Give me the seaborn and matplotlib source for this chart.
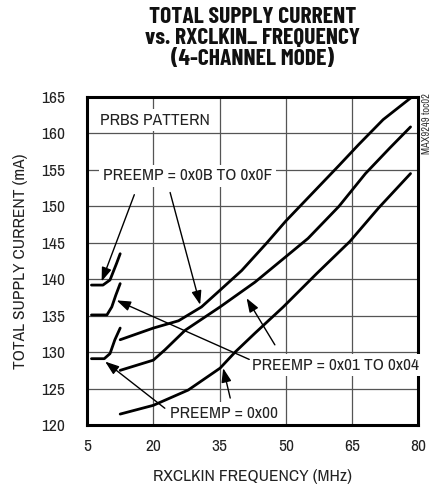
import matplotlib
matplotlib.use("Agg")
import matplotlib.pyplot as plt
import seaborn as sns
import pandas as pd
import numpy as np

# ---- data ----
freq_hi = [12.5, 20, 25.7, 30.9, 35.1, 40, 45.7, 50, 56, 62, 66.5, 72, 78.5]
curr_hi = [131.7, 133.3, 134.3, 136.2, 138.5, 141.2, 145.0, 148.0, 151.8, 155.6, 158.5, 161.9, 165.0]

freq_mid = [12.5, 20, 22.6, 27.2, 35.1, 43, 49.4, 55, 62, 68, 73.5, 78.2]
curr_mid = [127.5, 128.9, 130.3, 133.0, 136.2, 139.6, 142.8, 145.6, 150.0, 154.5, 158.0, 160.9]

freq_lo = [12.5, 20, 27.9, 35.1, 38.5, 43, 49.4, 57, 64.5, 71, 78.2]
curr_lo = [121.5, 122.7, 124.8, 127.8, 130.0, 132.6, 136.2, 140.8, 145.2, 149.8, 154.5]

# low-frequency segments
freq_seg_hi = [6.0, 8.6, 10.2, 11.7, 12.5]
curr_seg_hi = [139.2, 139.2, 139.9, 142.2, 143.5]
freq_seg_mid = [6.0, 9.5, 10.6, 11.5, 12.5]
curr_seg_mid = [135.1, 135.1, 136.2, 137.8, 139.4]
freq_seg_lo = [6.0, 8.9, 10.2, 11.3, 12.5]
curr_seg_lo = [129.1, 129.1, 129.8, 131.7, 133.3]

x_ticks = [5, 20, 35, 50, 65, 80]
y_ticks = [120, 125, 130, 135, 140, 145, 150, 155, 160, 165]

sns.set_theme(style="white")
FONT = ["Archivo Narrow", "DejaVu Sans"]
TITLE_FONT = ["Barlow Condensed", "DejaVu Sans"]
plt.rcParams["font.family"] = FONT

fig = plt.figure(figsize=(4.33, 4.91), dpi=100)
ax = fig.add_axes([0.201, 0.1344, 0.7655, 0.668])

frames = []
for name, xs, ys in [
    ("hi", freq_hi, curr_hi), ("mid", freq_mid, curr_mid), ("lo", freq_lo, curr_lo),
    ("seg_hi", freq_seg_hi, curr_seg_hi), ("seg_mid", freq_seg_mid, curr_seg_mid),
    ("seg_lo", freq_seg_lo, curr_seg_lo)]:
    frames.append(pd.DataFrame({"freq": xs, "curr": ys, "series": name}))
df = pd.concat(frames, ignore_index=True)

for name, g in df.groupby("series", sort=False):
    sns.lineplot(data=g, x="freq", y="curr", ax=ax, color="black", lw=2.0,
                 sort=False, estimator=None, legend=False, zorder=4)

ax.set_xlim(5, 80)
ax.set_ylim(120, 165)
ax.set_xticks(x_ticks)
ax.set_yticks(y_ticks)
ax.grid(True, color="#555555", lw=0.9, zorder=0)
ax.set_axisbelow(True)
for s in ax.spines.values():
    s.set_color("black")
    s.set_linewidth(2.2)
ax.tick_params(axis="both", length=0, labelsize=12.5, colors="#222222")
ax.tick_params(axis="y", pad=16)
ax.tick_params(axis="x", pad=10)
ax.set_xlabel("RXCLKIN FREQUENCY (MHz)", fontsize=12.5, color="#222222", labelpad=11)
ax.set_ylabel("TOTAL SUPPLY CURRENT (mA)", fontsize=12.5, color="#222222", labelpad=9)

fig.text(0.584, 0.986, "TOTAL SUPPLY CURRENT\nvs. RXCLKIN_ FREQUENCY\n(4-CHANNEL MODE)",
         ha="center", va="top", fontsize=17, fontweight="bold", linespacing=1.08,
         color="#111111", family=TITLE_FONT)

fig.text(0.985, 0.81, "MAX9249 toc02", rotation=90, ha="center", va="top",
         fontsize=7.5, color="#333333")

bbox = dict(boxstyle="square,pad=0.2", fc="white", ec="none")
ax.text(20.4, 161.8, "PRBS PATTERN", ha="center", va="center", fontsize=12.5,
        color="#222222", bbox=bbox, zorder=3)
ax.text(8.6, 154.2, "PREEMP = 0x0B TO 0x0F", ha="left", va="center", fontsize=12.5,
        color="#222222", bbox=bbox, zorder=3)
ax.text(42.3, 128.2, "PREEMP = 0x01 TO 0x04", ha="left", va="center", fontsize=12.5,
        color="#222222", bbox=bbox, zorder=3)
ax.text(23.8, 121.6, "PREEMP = 0x00", ha="left", va="center", fontsize=12.5,
        color="#222222", bbox=bbox, zorder=3)

arrows = [
    ((15.7, 151.6), (8.3, 139.7)),
    ((23.8, 151.9), (30.6, 136.5)),
    ((41.7, 129.0), (11.7, 137.1)),
    ((47.5, 131.0), (41.1, 137.4)),
    ((22.6, 122.3), (9.1, 128.7)),
    ((37.4, 123.7), (35.8, 127.8)),
]
for tail, tip in arrows:
    ax.annotate("", xy=tip, xytext=tail,
                arrowprops=dict(arrowstyle="-|>,head_length=0.7,head_width=0.25",
                                color="black", lw=1.0, shrinkA=0, shrinkB=0),
                zorder=5)

fig.savefig("out.png", dpi=100, facecolor="white")
